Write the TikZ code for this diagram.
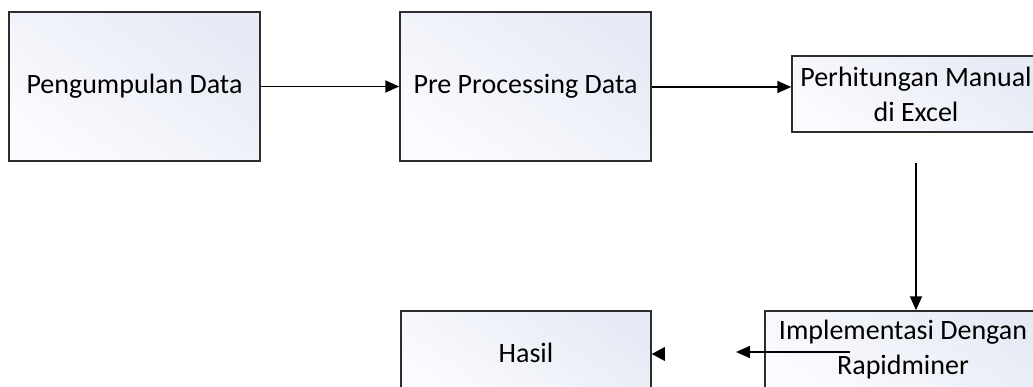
\documentclass[tikz,border=0pt]{standalone}
\usepackage{fontspec}
\setmainfont{Carlito}
\usetikzlibrary{arrows.meta}
\definecolor{boxtop}{RGB}{231,234,245}
\definecolor{boxbot}{RGB}{250,251,254}
\definecolor{edge}{RGB}{45,45,45}
\begin{document}
\begin{tikzpicture}[x=1pt,y=-1pt,
  stepbox/.style={draw=edge, line width=1.5pt, top color=boxtop, bottom color=boxbot, shading angle=-35,
    align=center, inner sep=0pt, font=\fontsize{28}{35}\selectfont},
  arr/.style={line width=1.9pt, -{Triangle[length=14pt,width=12pt]}}]
\useasboundingbox (0,0) rectangle (1033,387);
\clip (0,0) rectangle (1033,387);
\node[stepbox, minimum width=251pt, minimum height=149pt] (b1) at (134.5,86.5) {Pengumpulan Data};
\node[stepbox, minimum width=251pt, minimum height=149pt] (b2) at (525.5,86.5) {Pre Processing Data};
\node[stepbox, minimum width=248pt, minimum height=76pt] (b3) at (916,94) {Perhitungan Manual\\di Excel};
\node[stepbox, minimum width=276pt, minimum height=77pt] (b4) at (903,349.5) {Implementasi Dengan\\Rapidminer};
\node[stepbox, minimum width=250pt, minimum height=84pt] (b5) at (526,353) {Hasil};
\draw[arr] (b1) -- (b2);
\draw[arr] (b2.east |- 0,87) -- (b3.west |- 0,87);
\coordinate (v1) at (916,163);
\draw[arr] (v1) -- (v1 |- b4.north);
\coordinate (h1) at (850,352);
\coordinate (h2) at (736,352);
\draw[arr] (h1) -- (h2);
\fill ([yshift=-1pt]b5.east) -- ++(13,-7) -- ++(0,14) -- cycle;
\end{tikzpicture}
\end{document}
